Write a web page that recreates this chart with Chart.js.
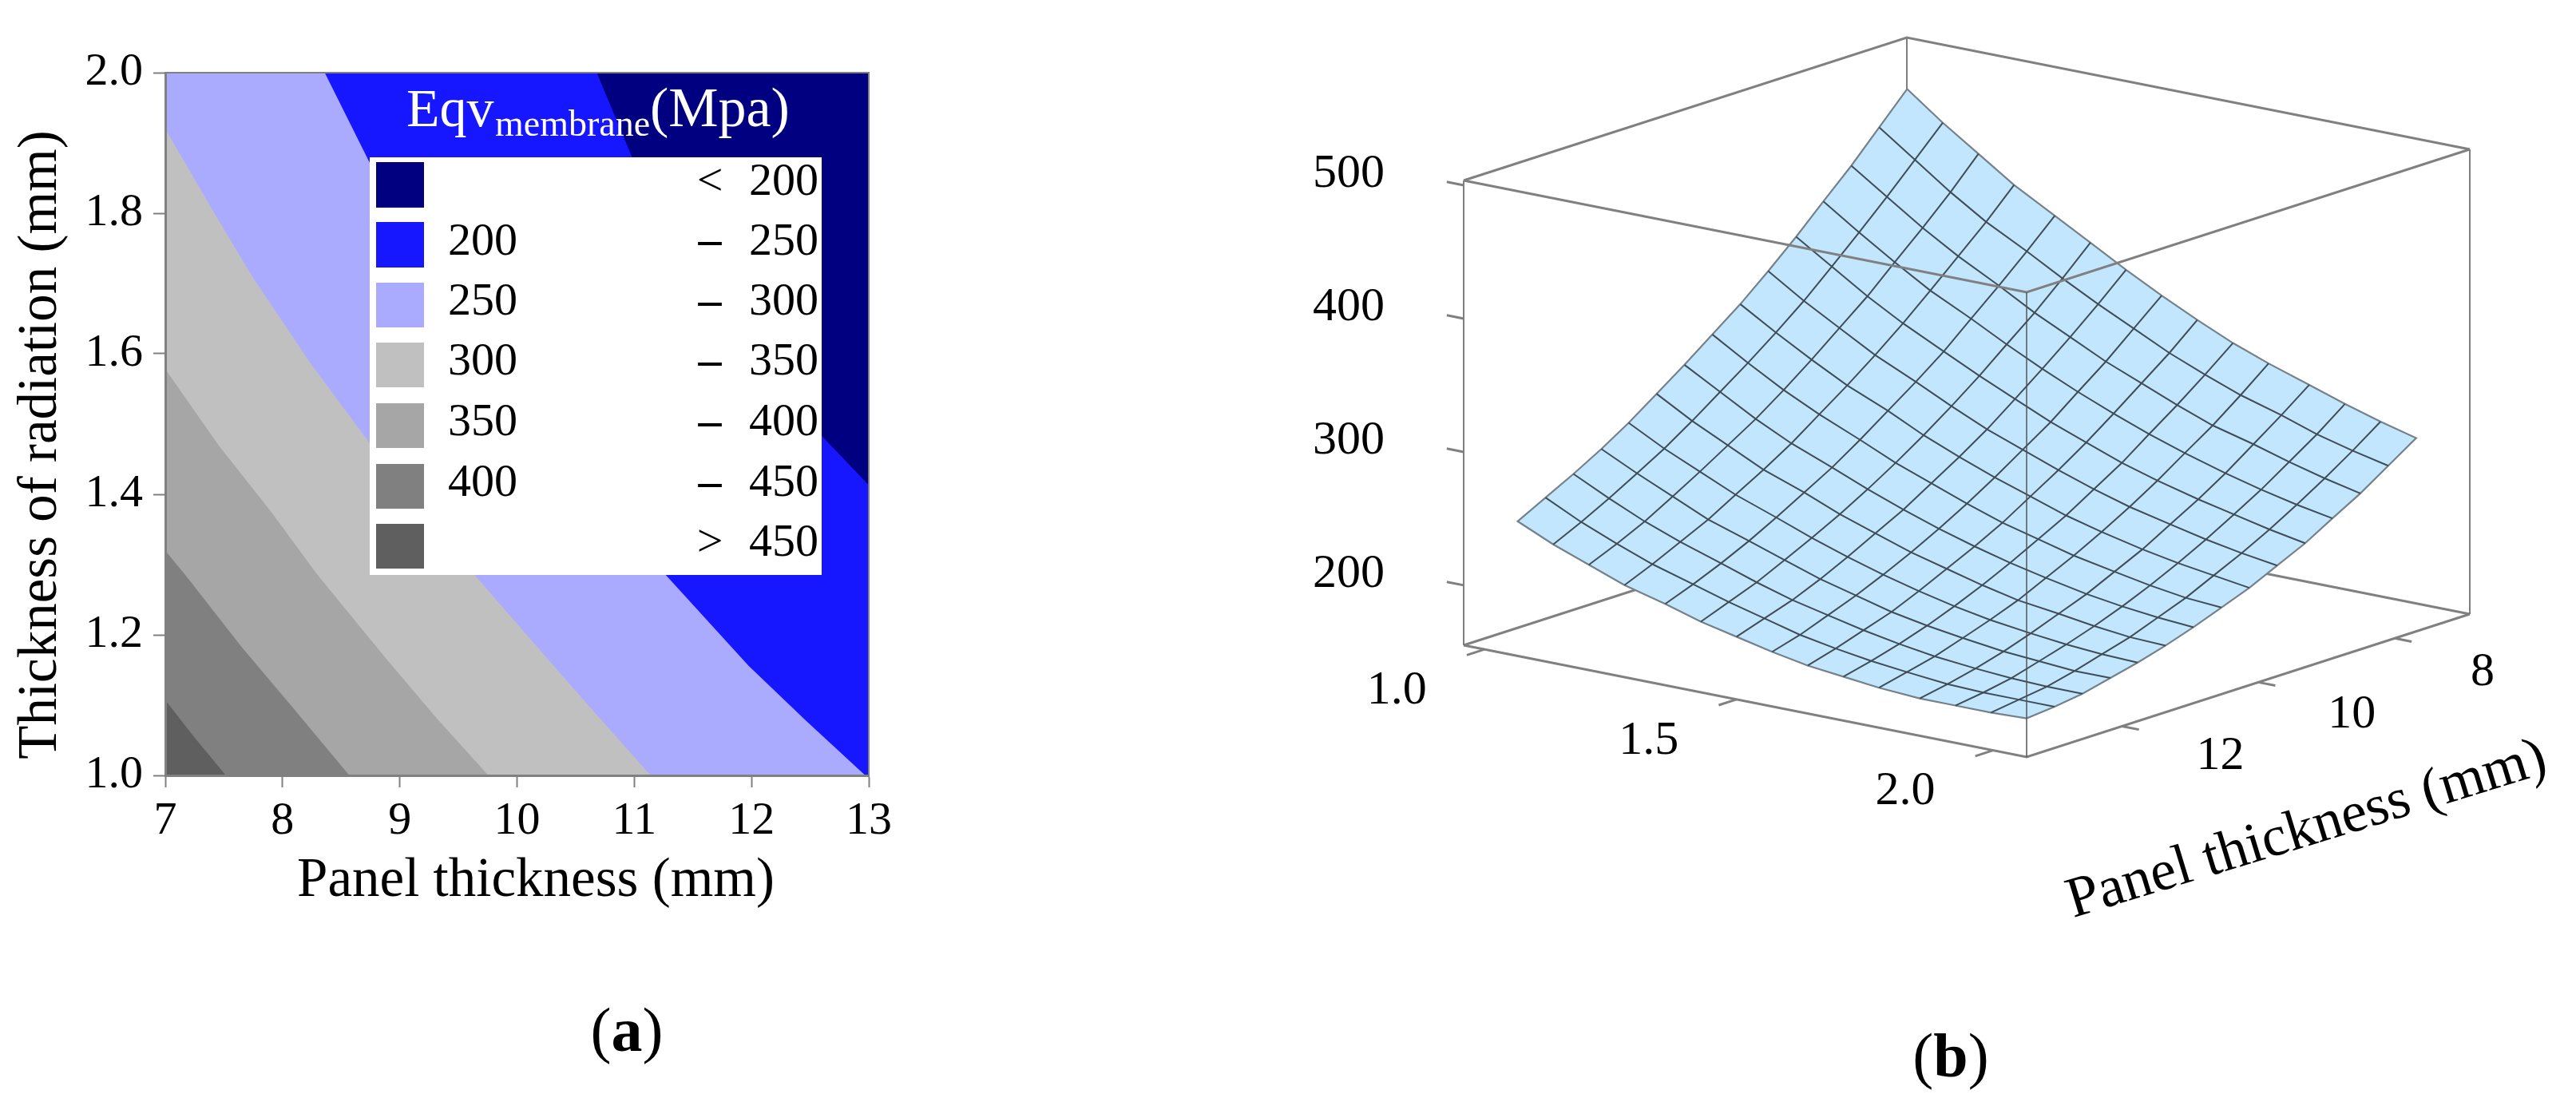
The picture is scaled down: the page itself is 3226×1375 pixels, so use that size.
<!DOCTYPE html>
<html><head><meta charset="utf-8">
<script src="https://cdn.jsdelivr.net/npm/chart.js@4/dist/chart.umd.js"></script>
<style>
html,body{margin:0;padding:0;background:#fff;width:3226px;height:1375px;overflow:hidden}
canvas{position:absolute;top:0}
#a{left:0}#b{left:1600px}
.cap{position:absolute;font-family:"Liberation Serif",serif;font-size:78px;line-height:1;transform:translate(-50%,-50%);color:#000}
</style></head><body>
<canvas id="a" width="1400" height="1150"></canvas>
<canvas id="b" width="1626" height="1375"></canvas>
<div class="cap" style="left:785px;top:1290px">(<b>a</b>)</div>
<div class="cap" style="left:2443px;top:1322px">(<b>b</b>)</div>
<script>
const SERIF='"Liberation Serif", serif';
/* ---------- panel (a): contour boundaries ---------- */
const xTicksA=[7,8,9,10,11,12,13];
const yTicksA=[1.0,1.2,1.4,1.6,1.8,2.0];
const xTitleA='Panel thickness (mm)';
const yTitleA='Thickness of radiation (mm)';
const levelColors=['#000080','#1616ff','#aaaaff','#c0c0c0','#a6a6a6','#808080','#5f5f5f'];
const legendLow=['','200','250','300','350','400',''];
const legendSign=['<','–','–','–','–','–','>'];
const legendHigh=['200','250','300','350','400','450','450'];
const fullX=[7,13], fullY=[2,2];
const c200X=[7,10.68,10.98,11.8,12.6,13];
const c200Y=[2,2,1.88,1.672,1.483,1.413];
const c250X=[7,8.36,8.743,9.5,10.4,11.27,11.975,12.47,12.97,13];
const c250Y=[2,2,1.872,1.672,1.465,1.285,1.156,1.077,1.0,1.0];
const c300X=[7,7.454,7.749,8.249,8.743,9.2,9.64,10.37,10.67,11.14];
const c300Y=[1.92,1.79,1.708,1.584,1.473,1.376,1.285,1.145,1.088,1.0];
const c350X=[7,7.454,7.908,8.30,8.875,9.30,9.755];
const c350Y=[1.578,1.47,1.374,1.285,1.168,1.084,1.0];
const c400X=[7,7.172,7.65,8.11,8.57];
const c400Y=[1.32,1.285,1.183,1.092,1.0];
const c450X=[7,7.249,7.517];
const c450Y=[1.107,1.054,1.0];
/* ---------- panel (b): surface values ---------- */
const rValues=[1.00,1.07,1.14,1.21,1.29,1.36,1.43,1.50,1.57,1.64,1.71,1.79,1.86,1.93,2.00];
const pValues=[7,7.43,7.86,8.29,8.71,9.14,9.57,10,10.43,10.86,11.29,11.71,12.14,12.57,13];
const zTable=[
[486,464,442,422,402,383,365,349,333,318,303,290,278,267,256],
[466,445,424,404,385,366,349,333,318,303,289,277,265,254,244],
[448,426,406,387,368,351,334,318,303,290,277,265,253,243,234],
[430,409,390,371,353,336,320,305,290,277,265,253,243,233,224],
[413,393,374,356,338,322,307,292,278,266,254,243,233,224,216],
[398,378,359,342,325,309,294,280,267,255,244,234,224,216,208],
[383,364,346,329,313,297,283,270,257,246,235,225,216,209,202],
[369,351,333,317,301,287,273,260,248,237,227,218,210,202,196],
[356,338,322,306,291,277,264,251,240,230,220,211,204,197,191],
[344,327,311,296,281,268,255,244,233,223,214,206,199,193,188],
[334,317,301,287,273,260,248,237,227,217,209,202,195,190,185],
[324,308,293,278,265,253,241,231,221,213,205,198,192,187,183],
[315,299,285,271,259,247,236,226,217,209,202,196,190,186,183],
[307,292,278,265,253,242,232,222,214,206,200,194,189,186,183],
[300,286,272,260,248,238,228,220,212,205,199,194,189,186,184]];
const rRange=[0.894,2.0], pRange=[6.174,13], zRange=[155,503.6];
const zTicks=[200,300,400,500];
const rTickLabels=['1.0','1.5','2.0'];
const rTickAt=[0.935,1.430,1.934];
const pTickLabels=['8','10','12'];
const pTickAt=[7.33,9.43,11.53];
const xTitleB='Panel thickness (mm)';

/* view of the 3-D box */
const VIEW={ox:2538,oy:948,lx:-705,ly:-140,rx:555,ry:-179,uy:-582};
function project(r,p,z){
  const a=(rRange[1]-r)/(rRange[1]-rRange[0]);
  const b=(pRange[1]-p)/(pRange[1]-pRange[0]);
  const c=(z-zRange[0])/(zRange[1]-zRange[0]);
  return {x:VIEW.ox+a*VIEW.lx+b*VIEW.rx,y:VIEW.oy+a*VIEW.ly+b*VIEW.ry+c*VIEW.uy};
}
function label(ctx,text,x,y,font,align,rot){
  ctx.save();ctx.translate(x,y);if(rot)ctx.rotate(rot);
  ctx.font=font;ctx.fillStyle='#000';ctx.textAlign=align||'center';ctx.textBaseline='middle';
  ctx.fillText(text,0,0);ctx.restore();
}
/* ---------- chart (a) ---------- */
const zip=(xs,ys)=>xs.map((x,i)=>({x,y:ys[i]}));
const layers=[[fullX,fullY],[c200X,c200Y],[c250X,c250Y],[c300X,c300Y],[c350X,c350Y],[c400X,c400Y],[c450X,c450Y]];
const dsA=layers.map((l,i)=>({data:zip(l[0],l[1]),showLine:true,pointRadius:0,borderWidth:0,tension:0,
  fill:'start',backgroundColor:levelColors[i],borderColor:levelColors[i],order:-i}));
const decoA={id:'decoA',afterDatasetsDraw(ch){
  const c=ch.ctx,A=ch.chartArea;
  c.save();
  c.strokeStyle='#808080';c.lineWidth=2;
  c.beginPath();c.moveTo(A.left,A.top);c.lineTo(A.right,A.top);c.lineTo(A.right,A.bottom);c.stroke();
  /* legend box */
  c.fillStyle='#fff';c.fillRect(463,197,566,523);
  const tops=[203,278,354,429,505,581,656],h=[57,57,56,56,56,56,56];
  levelColors.forEach((col,i)=>{
    c.fillStyle=col;c.fillRect(471,tops[i],60,h[i]);
    const y=tops[i]+h[i]/2-3;
    if(legendLow[i])label(c,legendLow[i],561,y,'58px '+SERIF,'left');
    label(c,legendSign[i],889,y,(legendSign[i]==='–'?'bold ':'')+'58px '+SERIF,'center');
    label(c,legendHigh[i],938,y,'58px '+SERIF,'left');
  });
  /* legend title */
  c.fillStyle='#fff';c.textAlign='left';c.textBaseline='alphabetic';
  c.font='68px '+SERIF;c.fillText('Eqv',509,158);
  c.font='46px '+SERIF;c.fillText('membrane',620,170);
  c.font='70px '+SERIF;c.fillText('(Mpa)',814,158);
  c.restore();
  label(c,xTitleA,671,1104,'69px '+SERIF);
  label(c,yTitleA,52,557,'69px '+SERIF,'center',-Math.PI/2);
}};
new Chart(document.getElementById('a'),{type:'scatter',
 data:{datasets:dsA},
 options:{responsive:false,animation:false,devicePixelRatio:1,
  layout:{padding:{left:0,top:91,right:312,bottom:0}},
  plugins:{legend:{display:false},tooltip:{enabled:false}},
  scales:{
   x:{type:'linear',min:7,max:13,afterFit(s){s.height=179;},
     afterBuildTicks(s){s.ticks=xTicksA.map(v=>({value:v}));},
     grid:{display:true,drawOnChartArea:false,drawTicks:true,tickLength:15,tickColor:'#808080',tickWidth:2},
     border:{display:true,color:'#808080',width:3,z:1},
     ticks:{autoSkip:false,maxRotation:0,padding:8,color:'#000',font:{family:SERIF,size:58}}},
   y:{type:'linear',min:1,max:2,afterFit(s){s.width=207;},
     afterBuildTicks(s){s.ticks=yTicksA.map(v=>({value:v}));},
     grid:{display:true,drawOnChartArea:false,drawTicks:true,tickLength:15,tickColor:'#808080',tickWidth:2},
     border:{display:true,color:'#808080',width:3,z:1},
     ticks:{autoSkip:false,padding:13,color:'#000',font:{family:SERIF,size:58},callback:v=>v.toFixed(1)}}
  }},
 plugins:[decoA]});
/* ---------- chart (b) ---------- */
const dsB=[];
function addLine(pts,color,width,extra){
  dsB.push(Object.assign({data:pts,showLine:true,pointRadius:0,borderColor:color,borderWidth:width,tension:0,fill:false,order:-dsB.length},extra||{}));
}
const [rL,rH]=rRange,[pL,pH]=pRange,[zL,zH]=zRange;
const EDGE='#808080',THIN='#555555';
addLine([project(rL,pH,zL),project(rL,pL,zL),project(rH,pL,zL)],EDGE,3);
addLine([project(rL,pL,zL),project(rL,pL,zH)],THIN,1.5);
addLine([project(rL,pH,zH),project(rL,pL,zH),project(rH,pL,zH)],EDGE,3);
addLine([project(rL,pH,zL),project(rL,pH,zH)],THIN,1.5);
addLine([project(rH,pL,zL),project(rH,pL,zH)],THIN,1.5);
/* surface outline + fill */
const n=rValues.length,m=pValues.length,perim=[];
for(let i=0;i<m;i++)perim.push(project(rValues[0],pValues[i],zTable[0][i]));
for(let j=1;j<n;j++)perim.push(project(rValues[j],pValues[m-1],zTable[j][m-1]));
for(let i=m-2;i>=0;i--)perim.push(project(rValues[n-1],pValues[i],zTable[n-1][i]));
for(let j=n-2;j>=0;j--)perim.push(project(rValues[j],pValues[0],zTable[j][0]));
addLine(perim,'#75828a',2.2,{fill:'shape',backgroundColor:'#c3e6ff'});
for(let j=1;j<n-1;j++)addLine(pValues.map((p,i)=>project(rValues[j],p,zTable[j][i])),'#3f4d55',2);
for(let i=1;i<m-1;i++)addLine(rValues.map((r,j)=>project(r,pValues[i],zTable[j][i])),'#3f4d55',2);
/* front box edges */
addLine([project(rL,pH,zL),project(rH,pH,zL),project(rH,pL,zL)],EDGE,3);
addLine([project(rL,pH,zH),project(rH,pH,zH),project(rH,pL,zH)],EDGE,3);
addLine([project(rH,pH,zL),project(rH,pH,zH)],THIN,1.5);
/* tick marks */
const dR=(rH-rL)*0.03,dP=(pH-pL)*0.04;
zTicks.forEach(z=>addLine([project(rL,pH,z),project(rL-dR,pH,z)],EDGE,3));
rTickAt.forEach(r=>addLine([project(r,pH,zL),project(r,pH+dP,zL)],EDGE,3));
pTickAt.forEach(p=>addLine([project(rH,p,zL),project(rH+dR,p,zL)],EDGE,3));
const decoB={id:'decoB',afterDatasetsDraw(ch){
  const c=ch.ctx,X=ch.scales.x,Y=ch.scales.y;
  const put=(t,pt,dx,dy)=>label(c,t,X.getPixelForValue(pt.x)+dx,Y.getPixelForValue(pt.y)+dy,'60px '+SERIF);
  zTicks.forEach(z=>put(String(z),project(rL,pH,z),-144,-14));
  rTickAt.forEach((r,i)=>put(rTickLabels[i],project(r,pH,zL),-110,52));
  const pDx=[110,117,123],pDy=[43,41,38];
  pTickAt.forEach((p,i)=>put(pTickLabels[i],project(rH,p,zL),pDx[i],pDy[i]));
  label(c,xTitleB,X.getPixelForValue(2889),Y.getPixelForValue(1040),'72px '+SERIF,'center',-17*Math.PI/180);
}};
new Chart(document.getElementById('b'),{type:'scatter',
 data:{datasets:dsB},
 options:{responsive:false,animation:false,devicePixelRatio:1,
  layout:{padding:0},
  plugins:{legend:{display:false},tooltip:{enabled:false}},
  scales:{x:{type:'linear',min:1600,max:3226,display:false},
          y:{type:'linear',min:0,max:1375,reverse:true,display:false}}},
 plugins:[decoB]});
</script>
</body></html>
